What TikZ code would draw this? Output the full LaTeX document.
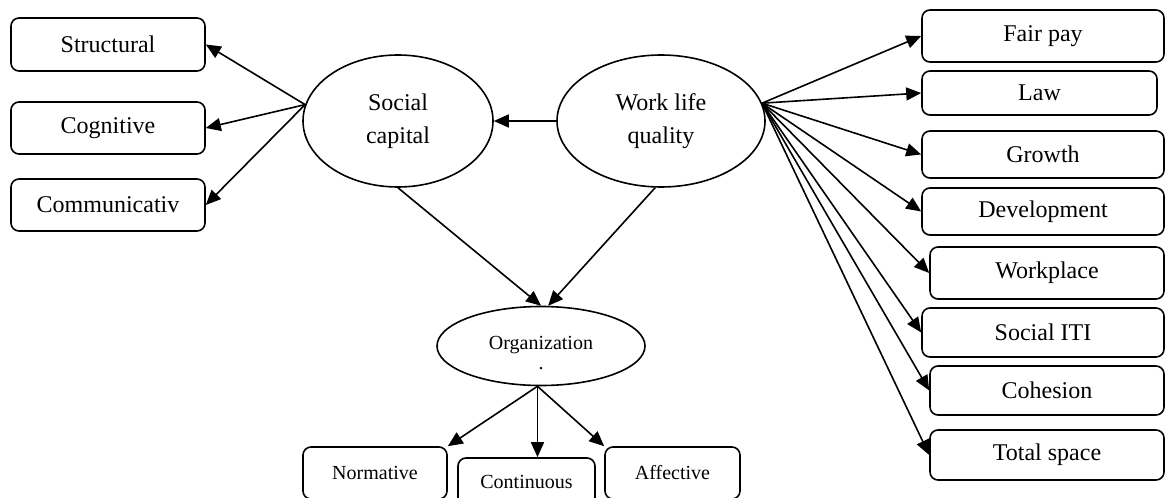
\documentclass[tikz,border=0pt]{standalone}
\usepackage{fontspec}
\setmainfont{Liberation Serif}
\usetikzlibrary{shapes.geometric,arrows.meta}
\tikzset{box/.style = {draw, rounded corners=4pt, line width=.8pt, inner sep=0pt,
                       font=\fontsize{12}{14}\selectfont},
         smallbox/.style = {box, font=\fontsize{10}{12}\selectfont},
         blob/.style = {draw, ellipse, line width=.8pt, inner sep=0pt, align=center,
                        font=\fontsize{12}{16.5}\selectfont},
         arr/.style = {-{Triangle[length=7.5pt,width=6.5pt]}, line width=.8pt}}

\begin{document}
\begin{tikzpicture}[x=.5pt, y=-.5pt]
      \useasboundingbox (0,0) rectangle (1165,497);
      % latent variables
      \node [blob, minimum width=95pt, minimum height=66pt] (sc) at (398,121) {Social\\capital};
      \node [blob, minimum width=104pt, minimum height=66pt] (wlq) at (661,121) {Work life\\quality};
      \node [blob, minimum width=104pt, minimum height=39.5pt, font=\fontsize{10}{10}\selectfont] (org) at (541,346) {\rule{0pt}{14pt}Organization\\.};
      % left side
      \node [box, minimum width=97pt, minimum height=26.5pt] (struct) at (108,44.5) {Structural};
      \node [box, minimum width=97pt, minimum height=26pt] (cog) at (108,128) {Cognitive};
      \node [box, minimum width=97pt, minimum height=26pt] (comm) at (108,205) {Communicativ};
      % right side
      \node [box, minimum width=121pt, minimum height=26pt] (fair) at (1043,36) {Fair pay};
      \node [box, minimum width=117.5pt, minimum height=22pt] (law) at (1039.5,93) {Law};
      \node [box, minimum width=121pt, minimum height=23.5pt] (grow) at (1043,154.5) {Growth};
      \node [box, minimum width=121pt, minimum height=23.5pt] (dev) at (1043,211.5) {Development};
      \node [box, minimum width=117pt, minimum height=26pt] (work) at (1047,273) {Workplace};
      \node [box, minimum width=121pt, minimum height=24.5pt] (iti) at (1043,332.5) {Social ITI};
      \node [box, minimum width=117pt, minimum height=24.5pt] (coh) at (1047,390.5) {Cohesion};
      \node [box, minimum width=117pt, minimum height=25pt] (total) at (1047,455) {Total space};
      % bottom
      \node [smallbox, minimum width=72pt, minimum height=26pt] (norm) at (375,473) {Normative};
      \node [smallbox, minimum width=68.5pt, minimum height=24pt] (cont) at (526.5,482) {Continuous};
      \node [smallbox, minimum width=67.5pt, minimum height=26pt] (aff) at (672.5,473) {Affective};

      \draw [arr] (sc.170) -- (struct.east);
      \draw [arr] (sc.170) -- (cog.east);
      \draw [arr] (sc.170) -- (comm.east);
      \draw [arr] (wlq.west) -- (sc.east);
      \foreach \b in {fair,law,grow,dev,work,iti,coh,total}
        \draw [arr] (wlq.10) -- (\b.west);
      \draw [arr] (sc.south) -- (org.north);
      \draw [arr] (wlq.-95) -- (org.80);
      \draw [arr] (org.-95) -- (norm.north east);
      \draw [arr] (org.-95) -- (org.-95 |- cont.north);
      \draw [arr] (org.-95) -- (aff.north west);
\end{tikzpicture}
\end{document}
